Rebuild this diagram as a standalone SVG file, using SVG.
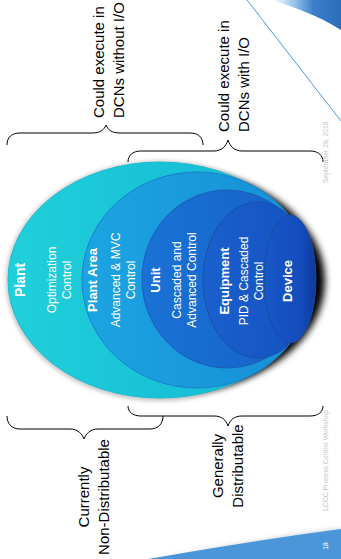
<svg xmlns="http://www.w3.org/2000/svg" width="341" height="559" viewBox="0 0 341 559">
<style>
.lbl{font-family:"Liberation Sans",Arial,sans-serif;font-size:15px;fill:#000}
.in{font-family:"Liberation Sans",Arial,sans-serif;font-size:12px;fill:#fff;text-anchor:middle}
.inb{font-family:"Liberation Sans",Arial,sans-serif;font-size:13px;font-weight:bold;fill:#fff;text-anchor:middle}
.wm{font-family:"Liberation Sans",Arial,sans-serif;font-size:6.8px;fill:#c4c4c4}
.brace{fill:none;stroke:#000;stroke-width:1}
.ring{stroke-width:1}
</style>
<defs>
<filter id="blur4" x="-20%" y="-20%" width="140%" height="140%"><feGaussianBlur stdDeviation="3.5"/></filter>
<filter id="blur2" x="-20%" y="-20%" width="140%" height="140%"><feGaussianBlur stdDeviation="2"/></filter>
<linearGradient id="gPlant" x1="0" y1="0" x2="1" y2="0"><stop offset="0" stop-color="#1fd0da"/><stop offset="1" stop-color="#14b4d4"/></linearGradient>
<linearGradient id="gArea" x1="0" y1="0" x2="1" y2="0"><stop offset="0" stop-color="#1ca4e2"/><stop offset="1" stop-color="#168ed6"/></linearGradient>
<linearGradient id="gUnit" x1="0" y1="0" x2="1" y2="0"><stop offset="0" stop-color="#1a72d4"/><stop offset="1" stop-color="#1560c8"/></linearGradient>
<linearGradient id="gEquip" x1="0" y1="0" x2="1" y2="0"><stop offset="0" stop-color="#1a60cc"/><stop offset="1" stop-color="#1450c0"/></linearGradient>
<linearGradient id="gDev" x1="0" y1="0" x2="1" y2="0"><stop offset="0" stop-color="#1758c6"/><stop offset="0.7" stop-color="#144cbc"/><stop offset="1" stop-color="#0e3a9c"/></linearGradient>
<linearGradient id="gSwoosh" x1="0" y1="0" x2="1" y2="0"><stop offset="0" stop-color="#ffffff"/><stop offset="0.35" stop-color="#8fbde6"/><stop offset="0.6" stop-color="#3a80c8"/><stop offset="1" stop-color="#2a6cb8"/></linearGradient>
</defs>

<g id="decor">
<path d="M272 0 C290 6 318 15 341 30 L341 0 Z" fill="url(#gSwoosh)"/>
<line x1="247" y1="0" x2="341" y2="121" stroke="#4a9ae0" stroke-width="1"/>
<path d="M148 559 Q250 540 341 528 L341 532 Q250 544 148 559 Z" fill="#9aa8b8" opacity="0.5" filter="url(#blur2)"/>
<path d="M148 559 Q250 541 341 529 L341 559 Z" fill="#4a96d8"/>
<text class="wm" transform="translate(328,183) rotate(-90)">September 28, 2016</text>
<text class="wm" transform="translate(328,511) rotate(-90)">LCCC Process Control Workshop</text>
<text class="wm" style="fill:#fff;text-anchor:middle" transform="translate(328,546) rotate(-90)">18</text>
</g>

<g id="shadow">
<ellipse cx="160" cy="281" rx="154" ry="120" fill="#777" opacity="0.45" filter="url(#blur2)"/>
<ellipse cx="177" cy="281" rx="148" ry="110" fill="#000" filter="url(#blur4)"/>
</g>

<g id="plant">
<ellipse class="ring" cx="160" cy="280" rx="152" ry="118" fill="url(#gPlant)" stroke="#18bcd0"/>
<text class="inb" style="font-size:14px" transform="translate(25,280) rotate(-90)">Plant</text>
<text class="in" transform="translate(56,280) rotate(-90)">Optimization<tspan x="0" dy="15">Control</tspan></text>
</g>

<g id="plant-area">
<ellipse class="ring" cx="197" cy="280" rx="115" ry="108" fill="url(#gArea)" stroke="#1582c8"/>
<text class="inb" transform="translate(97,280) rotate(-90)">Plant Area</text>
<text class="in" transform="translate(120,280) rotate(-90)">Advanced &amp; MVC<tspan x="0" dy="15">Control</tspan></text>
</g>

<g id="unit">
<ellipse class="ring" cx="227" cy="279" rx="85" ry="89" fill="url(#gUnit)" stroke="#1a5cb8"/>
<text class="inb" transform="translate(160,280) rotate(-90)">Unit</text>
<text class="in" transform="translate(181,280) rotate(-90)">Cascaded and<tspan x="0" dy="15">Advanced Control</tspan></text>
</g>

<g id="equipment">
<ellipse class="ring" cx="258" cy="280" rx="55" ry="78" fill="url(#gEquip)" stroke="#1a4fa8"/>
<text class="inb" transform="translate(229,281) rotate(-90)">Equipment</text>
<text class="in" transform="translate(248,281) rotate(-90)">PID &amp; Cascaded<tspan x="0" dy="15">Control</tspan></text>
</g>

<g id="device">
<ellipse class="ring" cx="290" cy="279" rx="26" ry="64" fill="url(#gDev)" stroke="#1a4aa0"/>
<text class="inb" transform="translate(292,281) rotate(-90)">Device</text>
</g>

<g id="connectors">
<path class="brace" d="M7,145 C7,137 12,133 20,133 L92,133 C100,133 104,130 106,125 C108,130 112,133 120,133 L190,133 C198,133 203,137 203,145"/>
<path class="brace" d="M128,162 C128,155 133,151 141,151 L214,151 C222,151 226,146 228,140 C230,146 234,151 242,151 L310,151 C318,151 323,155 323,162"/>
<path class="brace" d="M7,416 C7,424 12,429 20,429 L70,429 C78,429 82,434 84,439 C86,434 90,429 98,429 L150,429 C158,429 163,424 163,416"/>
<path class="brace" d="M128,406 C128,412 133,416 141,416 L214,416 C222,416 226,420 228,426 C230,420 234,416 242,416 L310,416 C318,416 323,412 323,406"/>
</g>

<g id="labels">
<text class="lbl" transform="translate(104,118) rotate(-90)">Could execute in<tspan x="0" dy="20">DCNs without I/O</tspan></text>
<text class="lbl" transform="translate(229,132) rotate(-90)">Could execute in<tspan x="0" dy="20">DCNs with I/O</tspan></text>
<text class="lbl" style="text-anchor:middle" transform="translate(89,497) rotate(-90)">Currently<tspan x="0" dy="20">Non-Distributable</tspan></text>
<text class="lbl" style="text-anchor:middle" transform="translate(223,466) rotate(-90)">Generally<tspan x="0" dy="20">Distributable</tspan></text>
</g>
</svg>
